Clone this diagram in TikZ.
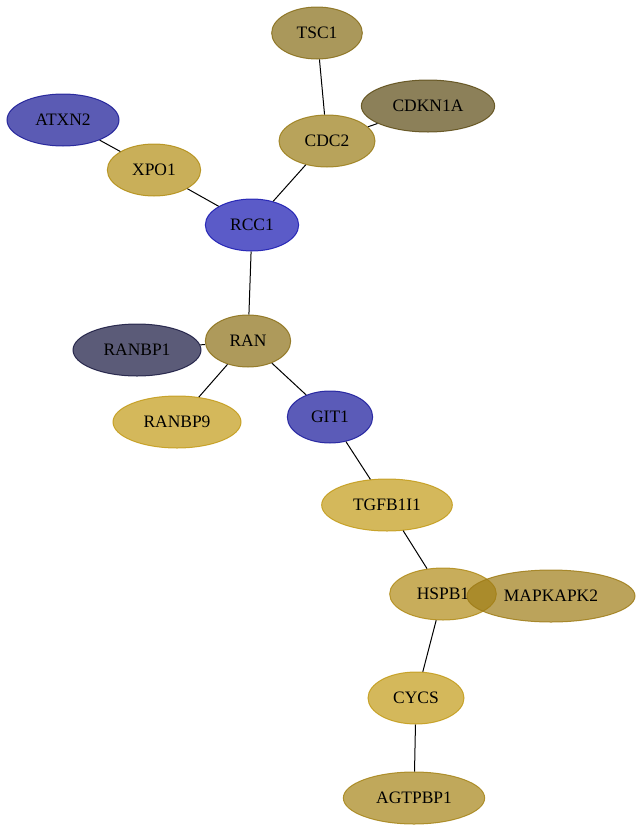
\documentclass[tikz,border=0pt]{standalone}
\usepackage{fontspec}
\setmainfont{Liberation Serif}
\usetikzlibrary{shapes.geometric}
\definecolor{cTSC}{RGB}{134,108,22}
\definecolor{cCDKN}{RGB}{91,74,19}
\definecolor{cCDC}{RGB}{154,124,22}
\definecolor{cATXN}{RGB}{22,22,148}
\definecolor{cXPO}{RGB}{178,141,19}
\definecolor{cRCC}{RGB}{22,22,176}
\definecolor{cRAN}{RGB}{139,111,22}
\definecolor{cRANBPa}{RGB}{22,22,62}
\definecolor{cYel}{RGB}{194,154,22}
\definecolor{cGIT}{RGB}{22,22,154}
\definecolor{cHSP}{RGB}{176,138,22}
\definecolor{cMAP}{RGB}{158,124,22}
\definecolor{cAGT}{RGB}{165,131,22}
\tikzset{
  gene/.style={ellipse, inner sep=0pt, minimum height=39pt, fill=#1, draw=#1,
    fill opacity=0.7, draw opacity=0.85, text opacity=1, line width=0.75pt,
    font=\fontsize{13.1}{15}\selectfont, text=black},
  link/.style={draw=black, line width=0.75pt}
}
\begin{document}
\begin{tikzpicture}[x=0.75pt,y=-0.75pt]
\useasboundingbox (0,0) rectangle (641,832);
\node[gene=cTSC, minimum width=68pt] (TSC1) at (317,33) {TSC1};
\node[gene=cCDKN, minimum width=100pt] (CDKN1A) at (428,106) {CDKN1A};
\node[gene=cCDC, minimum width=72pt] (CDC2) at (327,141) {CDC2};
\node[gene=cATXN, minimum width=84pt] (ATXN2) at (63,120) {ATXN2};
\node[gene=cXPO, minimum width=70pt] (XPO1) at (154,170) {XPO1};
\node[gene=cRCC, minimum width=70pt] (RCC1) at (252,225) {RCC1};
\node[gene=cRAN, minimum width=64pt] (RAN) at (248,341) {RAN};
\node[gene=cRANBPa, minimum width=96pt] (RANBP1) at (137,350) {RANBP1};
\node[gene=cYel, minimum width=96pt] (RANBP9) at (177,422) {RANBP9};
\node[gene=cGIT, minimum width=64pt] (GIT1) at (330,417) {GIT1};
\node[gene=cYel, minimum width=98pt] (TGFB1I1) at (387,505) {TGFB1I1};
\node[gene=cHSP, minimum width=80pt] (HSPB1) at (443,594) {HSPB1};
\node[gene=cMAP, minimum width=126pt] (MAPKAPK2) at (551,596) {MAPKAPK2};
\node[gene=cYel, minimum width=72pt] (CYCS) at (416,698) {CYCS};
\node[gene=cAGT, minimum width=106pt] (AGTPBP1) at (414,798) {AGTPBP1};
\draw[link] (TSC1) -- (CDC2);
\draw[link] (CDKN1A) -- (CDC2);
\draw[link] (CDC2) -- (RCC1);
\draw[link] (ATXN2) -- (XPO1);
\draw[link] (XPO1) -- (RCC1);
\draw[link] (RCC1) -- (RAN);
\draw[link] (RAN) -- (RANBP1);
\draw[link] (RAN) -- (RANBP9);
\draw[link] (RAN) -- (GIT1);
\draw[link] (GIT1) -- (TGFB1I1);
\draw[link] (TGFB1I1) -- (HSPB1);
\draw[link] (HSPB1) -- (CYCS);
\draw[link] (CYCS) -- (AGTPBP1);
\end{tikzpicture}
\end{document}
